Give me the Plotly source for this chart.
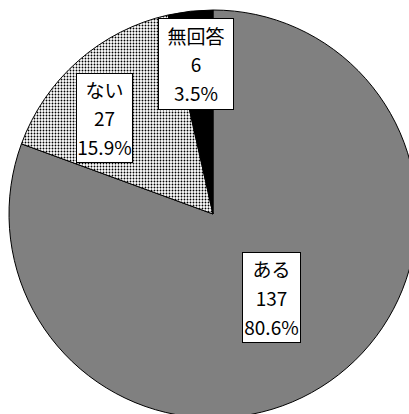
import math
import plotly.graph_objects as go

# Survey answers
labels = ["ある", "ない", "無回答"]
counts = [137, 27, 6]

# Figure canvas (the pie runs slightly past the visible window on the right and bottom)
W, H = 430, 430
CX, CY, R = 213, 214, 204  # pie centre and radius in pixels

total = sum(counts)
pcts = [c / total * 100 for c in counts]

fig = go.Figure(
    go.Pie(
        labels=labels,
        values=counts,
        sort=False,
        direction="clockwise",
        rotation=0,
        textinfo="none",
        hoverinfo="label+value+percent",
        marker=dict(
            colors=["#808080", "#ffffff", "#000000"],
            line=dict(color="#000000", width=1),
            pattern=dict(
                shape=["", ".", ""],
                fgcolor="#000000",
                bgcolor=["#808080", "#ffffff", "#000000"],
                size=3,
                solidity=0.3,
            ),
        ),
        domain=dict(
            x=[(CX - R) / W, (CX + R) / W],
            y=[1 - (CY + R) / H, 1 - (CY - R) / H],
        ),
        showlegend=False,
    )
)

# Boxed data labels placed inside each slice
label_radius = [0.50, 0.71, 0.74]   # fraction of the radius
angle_nudge = [0, -7, 0]            # degrees
box_w = [59, 57, 76]
box_h = [91, 90, 92]
GLYPH = 19       # visible glyph size
LINE = 22.3      # base size: sets the 29px line pitch (1.3em)
start = 0.0
for lab, c, p, rf, dn, bw, bh in zip(labels, counts, pcts, label_radius, angle_nudge, box_w, box_h):
    sweep = c / total * 360
    mid = math.radians(start + sweep / 2 + dn)
    start += sweep
    px = CX + rf * R * math.sin(mid)
    py = CY - rf * R * math.cos(mid)
    lines = [lab, str(c), f"{p:.1f}%"]
    text = "<br>".join(f"<span style='font-size:{GLYPH}px'>{s}</span>" for s in lines)
    fig.add_annotation(
        x=px / W,
        y=1 - py / H,
        xref="paper",
        yref="paper",
        xanchor="center",
        yanchor="middle",
        text=text,
        showarrow=False,
        font=dict(family="Noto Sans CJK JP", size=LINE, color="#000000"),
        bgcolor="#ffffff",
        bordercolor="#000000",
        borderwidth=1,
        borderpad=0,
        width=bw - 2,
        height=bh - 2,
        align="center",
        valign="middle",
    )

fig.update_layout(
    width=W,
    height=H,
    margin=dict(l=0, r=0, t=0, b=0),
    paper_bgcolor="#ffffff",
    plot_bgcolor="#ffffff",
)

fig.write_html(
    "out.html",
    config={"displayModeBar": False},
    post_script="document.documentElement.style.overflow='hidden';document.body.style.overflow='hidden';document.body.style.margin='0';",
)
